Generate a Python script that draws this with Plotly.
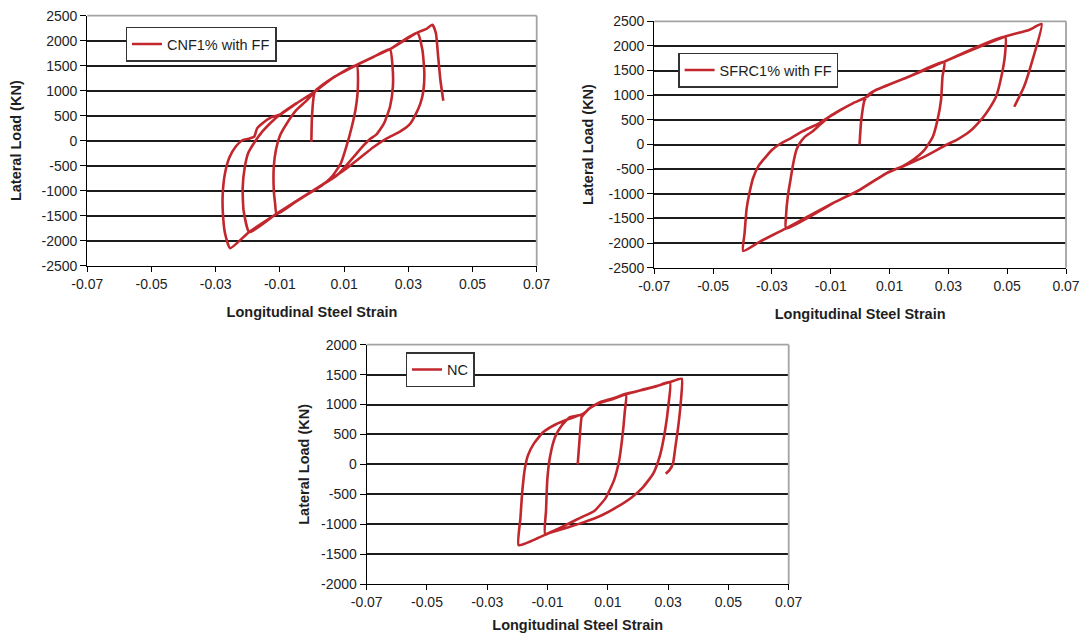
import plotly.graph_objects as go

# ---------------- data ----------------
x_tickvals = [-0.07, -0.05, -0.03, -0.01, 0.01, 0.03, 0.05, 0.07]
x_ticktext = ["-0.07", "-0.05", "-0.03", "-0.01", "0.01", "0.03", "0.05", "0.07"]
y_tick_top = [-2500, -2000, -1500, -1000, -500, 0, 500, 1000, 1500, 2000, 2500]
y_tick_bot = [-2000, -1500, -1000, -500, 0, 500, 1000, 1500, 2000]

cnf_name = "CNF1% with FF"
cnf_strain = [
    -0.0002, 0.0000, 0.0009,
    0.0066, 0.0139,
    0.0143, 0.0136, 0.0124, 0.0107, 0.0090, 0.0062, 0.0030,
    0.0000, -0.0050, -0.0110,
    -0.0115, -0.0119, -0.0119, -0.0112, -0.0100, -0.0080, -0.0049, -0.0017, 0.0009,
    0.0066, 0.0139, 0.0191, 0.0243,
    0.0251, 0.0252, 0.0243, 0.0224, 0.0200, 0.0180, 0.0160, 0.0129, 0.0080,
    0.0000, -0.0110, -0.0195,
    -0.0213, -0.0216, -0.0210, -0.0199, -0.0180, -0.0155, -0.0127, -0.0099,
    -0.0048, 0.0009, 0.0066, 0.0139, 0.0191, 0.0243, 0.0328,
    0.0344, 0.0350, 0.0347, 0.0338, 0.0324, 0.0305, 0.0274, 0.0233, 0.0191, 0.0150,
    0.0100, 0.0000, -0.0110, -0.0195, -0.0255,
    -0.0271, -0.0278, -0.0278, -0.0271, -0.0257, -0.0238, -0.0216, -0.0194, -0.0180, -0.0171, -0.0155, -0.0126,
    -0.0099, -0.0048, 0.0009, 0.0066, 0.0139, 0.0191, 0.0243, 0.0328, 0.0355, 0.0375,
    0.0386, 0.0393, 0.0400, 0.0409,
]
cnf_load = [
    -20, 480, 980,
    1260, 1510,
    1080, 640, 280, -120, -450, -720, -900,
    -1020, -1220, -1470,
    -1250, -990, -520, -170, 100, 330, 610, 800, 985,
    1262, 1514, 1675, 1828,
    1480, 1080, 680, 340, 120, 30, -100, -330, -680,
    -1010, -1460, -1830,
    -1400, -950, -550, -250, -40, 180, 370, 525,
    750, 982, 1262, 1514, 1675, 1830, 2160,
    1814, 1350, 1000, 750, 540, 330, 180, 47, -130, -340,
    -590, -1010, -1460, -1820, -2150,
    -1850, -1400, -1050, -650, -330, -120, 13, 45, 80, 247, 345, 470,
    525, 748, 984, 1262, 1514, 1675, 1830, 2162, 2230, 2320,
    2148, 1680, 1214, 800,
]

sfrc_name = "SFRC1% with FF"
sfrc_strain = [
    -0.0002, 0.0003, 0.0015, 0.0030, 0.0049,
    0.0167, 0.0286,
    0.0280, 0.0275, 0.0263, 0.0247, 0.0218, 0.0179, 0.0145,
    0.0088, -0.0002, -0.0093, -0.0252,
    -0.0252, -0.0246, -0.0237, -0.0228, -0.0217, -0.0205, -0.0189, -0.0161, -0.0135, -0.0104,
    -0.0070, -0.0025, 0.0026, 0.0049, 0.0167, 0.0286, 0.0493,
    0.0493, 0.0481, 0.0462, 0.0428, 0.0405, 0.0371, 0.0330, 0.0292,
    0.0224, 0.0156, 0.0088, -0.0002, -0.0093, -0.0252, -0.0341, -0.0398,
    -0.0393, -0.0386, -0.0377, -0.0364, -0.0345, -0.0325, -0.0300, -0.0270, -0.0235, -0.0195, -0.0140,
    -0.0104, -0.0070, -0.0025, 0.0026, 0.0049, 0.0167, 0.0286, 0.0493, 0.0574, 0.0617,
    0.0586, 0.0557, 0.0524,
]
sfrc_load = [
    0, 450, 900, 1020, 1091,
    1380, 1680,
    1375, 901, 495, 156, -115, -318, -440,
    -590, -923, -1193, -1705,
    -1450, -1050, -720, -400, -115, 30, 150, 270, 410, 565,
    690, 835, 975, 1091, 1378, 1682, 2188,
    1850, 1400, 970, 631, 460, 257, 100, -10,
    -230, -416, -585, -920, -1190, -1700, -1970, -2160,
    -1800, -1300, -1000, -680, -430, -280, -110, 20, 130, 270, 430,
    565, 690, 835, 975, 1091, 1378, 1682, 2190, 2324, 2446,
    1714, 1172, 766,
]

nc_name = "NC"
nc_strain = [
    0.0000, 0.0006, 0.0013, 0.0019,
    0.0041, 0.0074, 0.0118, 0.0160,
    0.0156, 0.0148, 0.0137, 0.0121, 0.0093, 0.0055, 0.0010, -0.0026, -0.0070, -0.0108,
    -0.0105, -0.0101, -0.0092, -0.0075, -0.0053, -0.0026, 0.0016,
    0.0041, 0.0074, 0.0118, 0.0160, 0.0206, 0.0262, 0.0306,
    0.0301, 0.0290, 0.0273, 0.0251, 0.0217, 0.0182, 0.0135, 0.0080, 0.0019, -0.0037, -0.0100, -0.0147, -0.0196,
    -0.0190, -0.0184, -0.0175, -0.0165, -0.0145, -0.0114, -0.0072, -0.0026, 0.0019,
    0.0041, 0.0074, 0.0118, 0.0160, 0.0206, 0.0262, 0.0306, 0.0345,
    0.0343, 0.0334, 0.0323, 0.0316, 0.0304, 0.0292,
]
nc_load = [
    0, 400, 789, 830,
    944, 1028, 1094, 1175,
    870, 450, 50, -260, -560, -780, -890, -980, -1090, -1160,
    -767, -267, 122, 456, 650, 789, 835,
    944, 1040, 1105, 1180, 1233, 1306, 1375,
    990, 570, 150, -150, -380, -540, -700, -850, -970, -1060, -1160, -1267, -1350,
    -900, -460, -60, 150, 350, 540, 670, 765, 850,
    944, 1030, 1096, 1172, 1235, 1308, 1375, 1430,
    1100, 650, 250, 10, -100, -156,
]

# ---------------- styling ----------------
W, H = 1081, 634
RED = "#C1272D"
FONT = "Liberation Sans, Arial, sans-serif"
TXT = "#1e1e1e"
FS = 14.5      # titles / legend
FT = 14        # tick labels

# panel boxes in pixels: (left, right, top, bottom)
boxes = {
    "1": (87.3, 536.7, 15.7, 265.7),
    "2": (654.3, 1066.0, 21.3, 267.7),
    "3": (366.7, 788.7, 344.7, 584.0),
}


def dom(b):
    l, r, t, bt = b
    return [l / W, r / W], [1 - bt / H, 1 - t / H]


fig = go.Figure()
series = [
    ("1", cnf_strain, cnf_load, cnf_name, "legend"),
    ("2", sfrc_strain, sfrc_load, sfrc_name, "legend2"),
    ("3", nc_strain, nc_load, nc_name, "legend3"),
]
for k, xs, ys, nm, lg in series:
    sfx = "" if k == "1" else k
    fig.add_trace(go.Scatter(
        x=xs, y=ys, mode="lines", name=nm,
        line=dict(color=RED, width=2.6, shape="spline", smoothing=0.5),
        xaxis="x" + sfx, yaxis="y" + sfx, legend=lg, showlegend=True,
    ))

layout = dict(
    width=W, height=H, autosize=False,
    margin=dict(l=0, r=0, t=0, b=0),
    paper_bgcolor="white", plot_bgcolor="white",
    font=dict(family=FONT, size=FT, color=TXT),
    shapes=[],
)

ystd = {"1": 16, "2": 11, "3": 7}
xstd = {"1": 16, "2": 16, "3": 10}
for k in ["1", "2", "3"]:
    sfx = "" if k == "1" else k
    xd, yd = dom(boxes[k])
    yt = y_tick_top if k in ("1", "2") else y_tick_bot
    layout["xaxis" + sfx] = dict(
        domain=xd, range=[x_tickvals[0], x_tickvals[-1]], anchor="y" + sfx,
        tickmode="array", tickvals=x_tickvals, ticktext=x_ticktext,
        showgrid=False, zeroline=False, showline=True, linecolor="#000", linewidth=1.2,
        ticks="outside", ticklen=5, tickcolor="#000", tickwidth=1.2,
        tickfont=dict(size=FT, color=TXT, family=FONT), ticklabeloverflow="allow",
        title=dict(text="<b>Longitudinal Steel Strain</b>", font=dict(size=FS, color=TXT, family=FONT),
                   standoff=xstd[k]),
        automargin=False, fixedrange=True,
    )
    layout["yaxis" + sfx] = dict(
        domain=yd, range=[yt[0], yt[-1]], anchor="x" + sfx,
        tickmode="array", tickvals=yt, ticktext=[str(v) for v in yt],
        showgrid=True, gridcolor="#1c1c1c", gridwidth=1.5,
        zeroline=False, showline=True, linecolor="#000", linewidth=1.2,
        ticks="outside", ticklen=6, tickcolor="#000", tickwidth=1.2,
        tickfont=dict(size=FT, color=TXT, family=FONT),
        title=dict(text="<b>Lateral Load (KN)</b>", font=dict(size=FS, color=TXT, family=FONT),
                   standoff=ystd[k]),
        automargin=False, fixedrange=True,
    )
    xr, yr = "x" + sfx + " domain", "y" + sfx + " domain"
    layout["shapes"].append(dict(type="line", xref=xr, yref=yr, x0=0, x1=1, y0=1, y1=1,
                                 line=dict(color="#a3a3a3", width=1.8), layer="above"))
    layout["shapes"].append(dict(type="line", xref=xr, yref=yr, x0=1, x1=1, y0=0, y1=1,
                                 line=dict(color="#a3a3a3", width=1.8), layer="above"))

leg_pos = {"legend": (125.7, 26.7), "legend2": (678.3, 52.7), "legend3": (405.7, 352.3)}
for lg, (px, py) in leg_pos.items():
    layout[lg] = dict(
        x=px / W, y=1 - py / H, xanchor="left", yanchor="top",
        bgcolor="white", bordercolor="#333", borderwidth=1.3,
        font=dict(size=FS, color=TXT, family=FONT), itemwidth=30,
    )

fig.update_layout(**layout)
fig.write_html("out.html")
